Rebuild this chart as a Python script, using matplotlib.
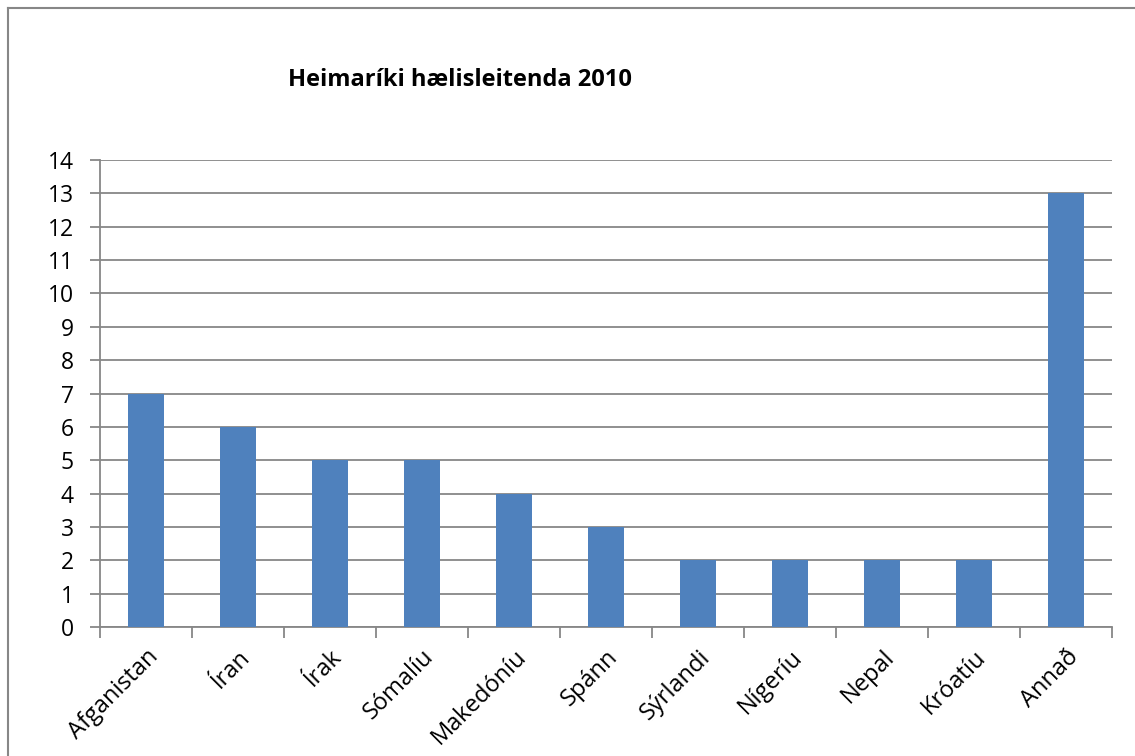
import matplotlib.pyplot as plt
from matplotlib.lines import Line2D
import numpy as np

# Data
countries = ['Afganistan', 'Íran', 'Írak', 'Sómalíu', 'Makedóníu', 'Spánn',
             'Sýrlandi', 'Nígeríu', 'Nepal', 'Króatíu', 'Annað']
counts = [7, 6, 5, 5, 4, 3, 2, 2, 2, 2, 13]
yticks = list(range(0, 15))

plt.rcParams['font.family'] = ['Open Sans', 'DejaVu Sans']

grid_color = '#878787'
bar_color = '#4F81BD'

fig = plt.figure(figsize=(11.35, 7.56), dpi=100)
ax = fig.add_axes([100 / 1135, 1 - 627 / 756, 1012 / 1135, 467 / 756])

x = np.arange(len(countries))
ax.bar(x, counts, width=0.4, color=bar_color, zorder=3)

ax.set_xlim(-0.5, len(countries) - 0.5)
ax.set_ylim(0, 14)
ax.set_yticks(yticks)
ax.set_yticklabels([str(v) for v in yticks], fontsize=16.5)
ax.yaxis.grid(True, color=grid_color, linewidth=1.3, zorder=0)

# category ticks sit between the bars
ax.set_xticks(np.arange(len(countries) + 1) - 0.5)
ax.set_xticklabels([])
ax.set_xticks(x, minor=True)
ax.set_xticklabels(countries, minor=True, rotation=45, ha='right',
                   va='top', rotation_mode='anchor', fontsize=17)
ax.tick_params(axis='x', which='minor', length=0, pad=13)
ax.tick_params(axis='x', which='major', length=8, color=grid_color, width=1.3)
ax.tick_params(axis='y', length=7, color=grid_color, width=1.3, pad=12)

for side in ['top', 'right']:
    ax.spines[side].set_visible(False)
for side in ['left', 'bottom']:
    ax.spines[side].set_color(grid_color)
    ax.spines[side].set_linewidth(1.3)

fig.text(460 / 1135, 1 - 80 / 756, 'Heimaríki hælisleitenda 2010',
         ha='center', va='center', fontsize=17, fontweight='bold')

# outer chart border (left and top edges only)
bx, by = 8 / 1135, 1 - 8 / 756
fig.add_artist(Line2D([bx, bx], [0, by], transform=fig.transFigure,
                      color=grid_color, linewidth=1.5))
fig.add_artist(Line2D([bx, 1], [by, by], transform=fig.transFigure,
                      color=grid_color, linewidth=1.5))

fig.savefig('out.png', dpi=100)
